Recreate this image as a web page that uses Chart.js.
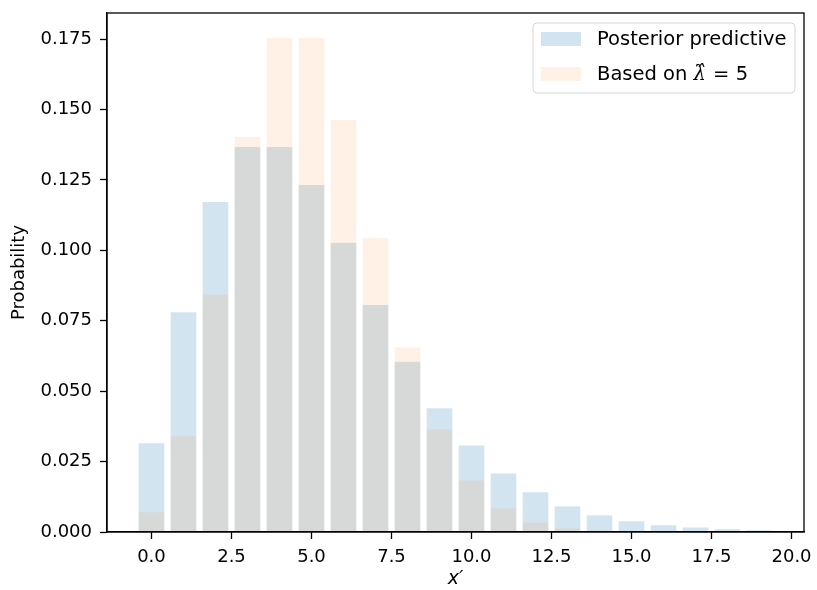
<!DOCTYPE html>
<html>
<head>
    <title>Posterior predictive</title>
    <script src="https://cdn.jsdelivr.net/npm/chart.js"></script>
    <style>
        body { margin: 0; background: #fff; }
    </style>
</head>
<body>
    <canvas id="myChart" width="817" height="590"></canvas>
    <script>
        // values
        var xValues = [0, 1, 2, 3, 4, 5, 6, 7, 8, 9, 10, 11, 12, 13, 14, 15, 16, 17, 18, 19];
        var posteriorPredictive = [0.0315, 0.0780, 0.1172, 0.1367, 0.1367, 0.1232, 0.1027, 0.0806, 0.0605, 0.0439,
                                   0.0307, 0.0208, 0.0141, 0.0091, 0.0059, 0.0038, 0.0024, 0.0016, 0.0010, 0.0006];
        var basedOnLambdaHat = [0.0070, 0.0340, 0.0843, 0.1403, 0.1754, 0.1754, 0.1463, 0.1045, 0.0655, 0.0364,
                                0.0183, 0.0084, 0.0034, 0.0013, 0.0005, 0.0002, 0.0001, 0.0000, 0.0000, 0.0000];
        var xTicks = [0, 2.5, 5, 7.5, 10, 12.5, 15, 17.5, 20];
        var yTicks = [0, 0.025, 0.05, 0.075, 0.1, 0.125, 0.15, 0.175];
        var legendLabels = ['Posterior predictive', 'Based on '];

        var blue = 'rgba(31, 119, 180, 0.2)';
        var orange = 'rgba(255, 127, 14, 0.11)';

        Chart.defaults.font.family = 'DejaVu Sans';
        Chart.defaults.font.size = 18;
        Chart.defaults.color = '#000';

        // box round the plot + legend in the top right corner
        var framePlugin = {
            id: 'frame',
            afterDraw: function(chart) {
                var c = chart.ctx, a = chart.chartArea;
                c.save();
                c.strokeStyle = '#000';
                c.lineWidth = 1.3;
                c.strokeRect(a.left, a.top, a.right - a.left, a.bottom - a.top);

                // legend
                var bx = 533, by = 23, bw = 262, bh = 70, r = 4;
                c.beginPath();
                c.moveTo(bx + r, by);
                c.arcTo(bx + bw, by, bx + bw, by + bh, r);
                c.arcTo(bx + bw, by + bh, bx, by + bh, r);
                c.arcTo(bx, by + bh, bx, by, r);
                c.arcTo(bx, by, bx + bw, by, r);
                c.closePath();
                c.fillStyle = 'rgba(255,255,255,0.8)';
                c.fill();
                c.strokeStyle = '#d6d6d6';
                c.lineWidth = 1;
                c.stroke();

                c.fillStyle = blue;
                c.fillRect(541, 32, 40, 14);
                c.fillStyle = orange;
                c.fillRect(541, 67, 40, 14);

                c.fillStyle = '#000';
                c.textBaseline = 'middle';
                c.textAlign = 'left';
                c.font = '19.5px "DejaVu Sans"';
                c.fillText(legendLabels[0], 597, 40);
                c.fillText(legendLabels[1], 597, 75);
                var w = c.measureText(legendLabels[1]).width;
                c.font = 'italic 19.5px "DejaVu Serif"';
                c.fillText('\u03bb\u0302', 597 + w, 75);
                var w2 = c.measureText('\u03bb\u0302').width;
                c.font = '19.5px "DejaVu Sans"';
                c.fillText(' = 5', 597 + w + w2 + 1, 75);
                c.restore();
            }
        };

        var ctx = document.getElementById('myChart').getContext('2d');
        var myChart = new Chart(ctx, {
            type: 'bar',
            data: {
                datasets: [{
                    label: 'Based on \u03bb\u0302 = 5',
                    data: xValues.map(function(x, i) { return { x: x, y: basedOnLambdaHat[i] }; }),
                    backgroundColor: orange,
                    grouped: false,
                    categoryPercentage: 0.8,
                    barPercentage: 1.0
                }, {
                    label: 'Posterior predictive',
                    data: xValues.map(function(x, i) { return { x: x, y: posteriorPredictive[i] }; }),
                    backgroundColor: blue,
                    grouped: false,
                    categoryPercentage: 0.8,
                    barPercentage: 1.0
                }]
            },
            options: {
                responsive: false,
                animation: false,
                layout: { padding: { top: 13, right: 13, left: 0, bottom: 0 } },
                plugins: {
                    legend: { display: false },
                    tooltip: { enabled: false }
                },
                scales: {
                    x: {
                        type: 'linear',
                        offset: false,
                        min: -1.39,
                        max: 20.39,
                        afterBuildTicks: function(s) { s.ticks = xTicks.map(function(v) { return { value: v }; }); },
                        afterFit: function(s) { s.height = 58; s.paddingLeft = 0; s.paddingRight = 0; },
                        ticks: {
                            padding: 8,
                            maxRotation: 0,
                            callback: function(v) { return v.toFixed(1); }
                        },
                        grid: { drawOnChartArea: false, offset: false, tickLength: 7, color: '#000', tickWidth: 1.3 },
                        border: { display: true, color: '#000', width: 1.3 },
                        title: {
                            display: true,
                            text: 'x\u2032',
                            font: { style: 'italic', size: 19 },
                            padding: { top: 0, bottom: 0 }
                        }
                    },
                    y: {
                        min: 0,
                        max: 0.1843,
                        afterBuildTicks: function(s) { s.ticks = yTicks.map(function(v) { return { value: v }; }); },
                        afterFit: function(s) { s.width = 107; s.paddingTop = 0; s.paddingBottom = 0; },
                        ticks: {
                            padding: 8,
                            callback: function(v) { return v.toFixed(3); }
                        },
                        grid: { drawOnChartArea: false, tickLength: 7, color: '#000', tickWidth: 1.3 },
                        border: { display: true, color: '#000', width: 1.3 },
                        title: {
                            display: true,
                            text: 'Probability',
                            padding: { top: 9, bottom: 0 }
                        }
                    }
                }
            },
            plugins: [framePlugin]
        });
    </script>
</body>
</html>
